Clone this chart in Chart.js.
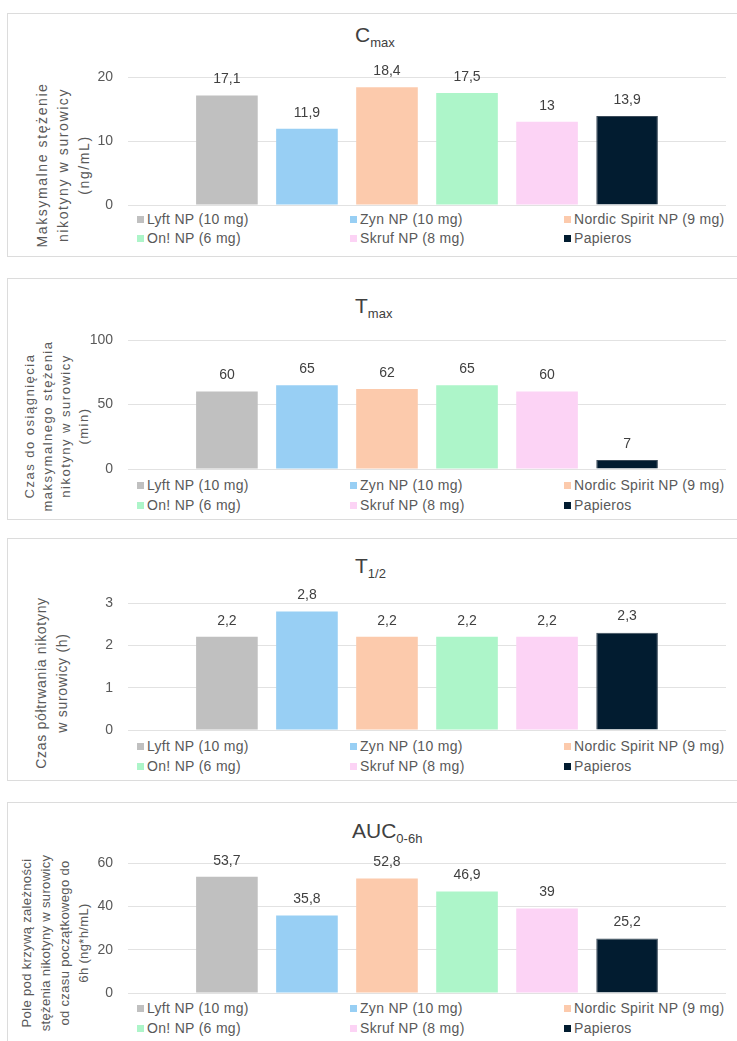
<!DOCTYPE html>
<html>
<head>
<meta charset="utf-8">
<script src="https://cdn.jsdelivr.net/npm/chart.js@4.4.1/dist/chart.umd.min.js"></script>
<style>
body { margin:0; width:737px; height:1041px; overflow:hidden; background:#fff; position:relative;
       font-family:'Liberation Sans', Arial, sans-serif; color:#404040; }
.panel { position:absolute; left:7px; width:742px; border:1px solid #dcdcdc; box-sizing:border-box; }
.title { position:absolute; font-size:21px; color:#404040; white-space:nowrap; line-height:1; transform:translateY(-50%); }
.title sub { font-size:13px; vertical-align:baseline; position:relative; top:5px; }
.ytitle { position:absolute; transform:translate(-50%,-50%) rotate(-90deg); text-align:center; white-space:nowrap; color:#595959; }
canvas { position:absolute; }
.leg { position:absolute; font-size:14px; white-space:nowrap; letter-spacing:0.3px; color:#595959; transform:translateY(-50%); line-height:1; }
.leg i { display:inline-block; width:7px; height:7px; margin-right:3px; vertical-align:1px; }
</style>
</head>
<body>
<script>
// products and values
const products = ['Lyft NP (10 mg)', 'Zyn NP (10 mg)', 'Nordic Spirit NP (9 mg)', 'On! NP (6 mg)', 'Skruf NP (8 mg)', 'Papieros'];
const cmax = [17.1, 11.9, 18.4, 17.5, 13, 13.9];
const tmax = [60, 65, 62, 65, 60, 7];
const thalf = [2.2, 2.8, 2.2, 2.2, 2.2, 2.3];
const auc = [53.7, 35.8, 52.8, 46.9, 39, 25.2];

const cmaxTicks = [0, 10, 20];
const tmaxTicks = [0, 50, 100];
const thalfTicks = [0, 1, 2, 3];
const aucTicks = [0, 20, 40, 60];

const cmaxAxis = ['Maksymalne stężenie', 'nikotyny w surowicy', '(ng/mL)'];
const tmaxAxis = ['Czas do osiągnięcia', 'maksymalnego stężenia', 'nikotyny w surowicy', '(min)'];
const thalfAxis = ['Czas półtrwania nikotyny', 'w surowicy (h)'];
const aucAxis = ['Pole pod krzywą zależności', 'stężenia nikotyny w surowicy', 'od czasu początkowego do', '6h (ng*h/mL)'];

const colors = ['#c0c0c0', '#98cff4', '#fccaac', '#adf5c9', '#fcd3f5', '#021c30'];

const fmt = v => String(v).replace('.', ',');

// draws the value above each bar
const barLabels = {
    id: 'barLabels',
    afterDatasetsDraw(chart) {
        const ctx = chart.ctx;
        ctx.save();
        ctx.font = '14px "Liberation Sans", Arial, sans-serif';
        ctx.fillStyle = '#404040';
        ctx.textAlign = 'center';
        ctx.textBaseline = 'middle';
        chart.data.datasets.forEach((ds, i) => {
            chart.getDatasetMeta(i).data.forEach((bar, j) => {
                ctx.fillText(fmt(ds.data[j]), bar.x, bar.y - 16);
            });
        });
        ctx.restore();
    }
};

const panels = [
    {title: 'C', sub: 'max', values: cmax, ticks: cmaxTicks, axis: cmaxAxis,
     top: 13, height: 244, titleX: 355, titleY: 34, plotTop: 77, zero: 205, rows: [219, 238],
     yt: {x: 63, y: 165, size: 14, ls: 1.6, lh: 21}},
    {title: 'T', sub: 'max', values: tmax, ticks: tmaxTicks, axis: tmaxAxis,
     top: 278, height: 242, titleX: 355, titleY: 305, plotTop: 340, zero: 469, rows: [485, 505],
     yt: {x: 57, y: 426, size: 13, ls: 1.5, lh: 18}},
    {title: 'T', sub: '1/2', values: thalf, ticks: thalfTicks, axis: thalfAxis,
     top: 538, height: 243, titleX: 355, titleY: 565, plotTop: 603, zero: 730, rows: [746, 766],
     yt: {x: 52, y: 683, size: 14, ls: 0.7, lh: 21}},
    {title: 'AUC', sub: '0-6h', values: auc, ticks: aucTicks, axis: aucAxis,
     top: 802, height: 250, titleX: 352, titleY: 830, plotTop: 863, zero: 993, rows: [1008, 1028],
     yt: {x: 55, y: 943, size: 13, ls: 0.35, lh: 19}}
];

const legCols = [137, 350, 564];

function el(tag, cls, parent) {
    const e = document.createElement(tag);
    if (cls) e.className = cls;
    (parent || document.body).appendChild(e);
    return e;
}

for (const p of panels) {
    const box = el('div', 'panel');
    box.style.top = p.top + 'px';
    box.style.height = p.height + 'px';

    const t = el('div', 'title');
    t.style.left = p.titleX + 'px';
    t.style.top = p.titleY + 'px';
    t.innerHTML = p.title + '<sub>' + p.sub + '</sub>';

    const yt = el('div', 'ytitle');
    yt.style.left = p.yt.x + 'px';
    yt.style.top = p.yt.y + 'px';
    yt.style.fontSize = p.yt.size + 'px';
    yt.style.letterSpacing = p.yt.ls + 'px';
    yt.style.lineHeight = p.yt.lh + 'px';
    yt.innerHTML = p.axis.join('<br>');

    products.forEach((name, i) => {
        const lg = el('div', 'leg');
        lg.style.left = legCols[i % 3] + 'px';
        lg.style.top = p.rows[Math.floor(i / 3)] + 'px';
        lg.innerHTML = '<i style="background:' + colors[i] + '"></i>' + name;
    });

    // canvas: 30px above plot for value labels, 10px below for the "0" tick
    const cv = el('canvas');
    cv.width = 655;
    cv.height = p.zero - p.plotTop + 40;
    cv.style.left = '78px';
    cv.style.top = (p.plotTop - 30) + 'px';

    const tk = p.ticks;
    new Chart(cv, {
        type: 'bar',
        data: {
            labels: [''],
            datasets: products.map((name, i) => ({
                label: name,
                data: [p.values[i]],
                backgroundColor: colors[i],
                borderColor: i === 5 ? '#3c4c5a' : colors[i],
                borderWidth: i === 5 ? 1 : 0,
                categoryPercentage: 0.803,
                barPercentage: 0.77
            }))
        },
        options: {
            responsive: false,
            animation: false,
            layout: {padding: {top: 30, right: 7, bottom: 10, left: 0}},
            plugins: {legend: {display: false}, tooltip: {enabled: false}},
            scales: {
                x: {display: false},
                y: {
                    min: tk[0],
                    max: tk[tk.length - 1],
                    afterBuildTicks: s => { s.ticks = tk.map(v => ({value: v})); },
                    afterFit: s => { s.width = 50; s.paddingTop = 0; s.paddingBottom = 0; },
                    ticks: {padding: 15, color: '#595959', font: {size: 14, family: '"Liberation Sans", Arial, sans-serif'}, callback: v => fmt(v)},
                    grid: {color: '#e2e2e2', drawTicks: false},
                    border: {display: false}
                }
            }
        },
        plugins: [barLabels]
    });
}
</script>
</body>
</html>
